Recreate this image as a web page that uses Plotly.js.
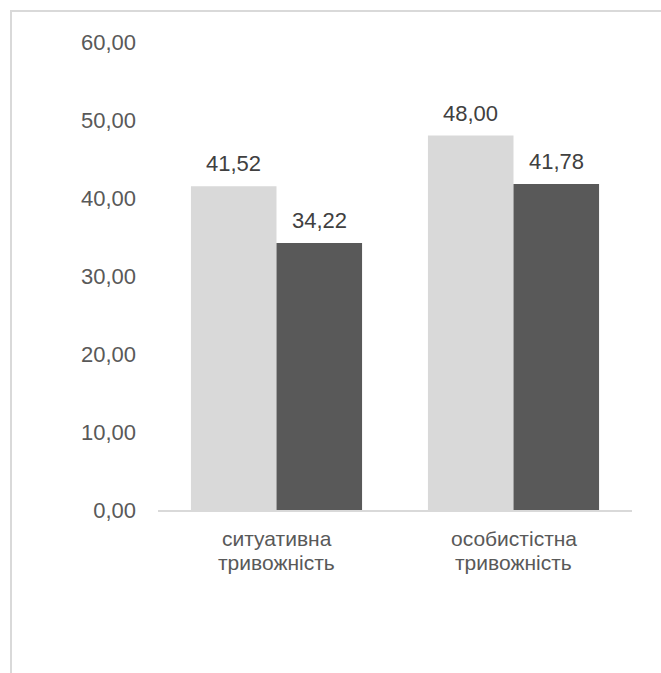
<!DOCTYPE html>
<html>
<head>
<meta charset="utf-8">
<script src="https://cdn.plot.ly/plotly-3.0.1.min.js"></script>
<style>
  html, body { margin: 0; padding: 0; background: #ffffff; overflow: hidden; }
  #wrap { position: relative; width: 661px; height: 673px; }
  #chart { position: absolute; left: 0; top: 0; width: 661px; height: 673px; }
  #frame {
    position: absolute; left: 10px; top: 10px; width: 720px; height: 720px;
    border-top: 2px solid #d9d9d9; border-left: 2px solid #d9d9d9;
    pointer-events: none;
  }
</style>
</head>
<body>
<div id="wrap">
  <div id="chart"></div>
  <div id="frame"></div>
</div>
<script>
// Anxiety scale means for two groups
const categories = ['ситуативна тривожність', 'особистістна тривожність'];
const labelLine1 = ['ситуативна', 'особистістна'];
const labelLine2 = ['тривожність', 'тривожність'];
const groupA = [41.52, 48.00];
const groupB = [34.22, 41.78];
const yTicks = [0, 10, 20, 30, 40, 50, 60];

const FONT = 'Liberation Sans, Arial, sans-serif';
const BAR_PX = 85.5; // width of one bar in pixels, used to centre labels over each bar

const traces = [
  { type: 'bar', x: categories, y: groupA, marker: { color: '#d9d9d9' }, hoverinfo: 'skip' },
  { type: 'bar', x: categories, y: groupB, marker: { color: '#595959' }, hoverinfo: 'skip' }
];

const annotations = [];

// value labels above bars
[groupA, groupB].forEach((vals, gi) => {
  vals.forEach((v, i) => {
    annotations.push({
      x: categories[i], y: v, xref: 'x', yref: 'y',
      xshift: (gi === 0 ? -1 : 1) * BAR_PX / 2,
      yshift: 8,
      yanchor: 'bottom', xanchor: 'center',
      text: v.toFixed(2).replace('.', ','),
      showarrow: false,
      font: { family: FONT, size: 22, color: '#404040' }
    });
  });
});

// two-line category labels under the axis, with tighter line spacing
categories.forEach((c, i) => {
  [[labelLine1[i], -16], [labelLine2[i], -40]].forEach(([txt, dy]) => {
    annotations.push({
      x: c, y: 0, xref: 'x', yref: 'y',
      yanchor: 'top', xanchor: 'center', yshift: dy,
      borderpad: 0,
      text: txt, showarrow: false,
      font: { family: FONT, size: 21, color: '#595959' }
    });
  });
});

const layout = {
  width: 661, height: 673,
  margin: { l: 158, r: 29, t: 42, b: 163 },
  paper_bgcolor: 'rgba(0,0,0,0)', plot_bgcolor: 'rgba(0,0,0,0)',
  separators: ', ',
  showlegend: false,
  barmode: 'group', bargap: 0.278, bargroupgap: 0,
  font: { family: FONT, size: 22, color: '#595959' },
  xaxis: {
    type: 'category',
    showline: true, linecolor: '#d9d9d9', linewidth: 1.5,
    showgrid: false, zeroline: false, ticks: '',
    showticklabels: false
  },
  yaxis: {
    range: [0, 60], tickvals: yTicks, tickformat: '.2f',
    showline: false, showgrid: false, zeroline: false, ticks: '',
    ticklabelstandoff: 21,
    tickfont: { family: FONT, size: 22, color: '#595959' }
  },
  annotations: annotations
};

Plotly.newPlot('chart', traces, layout, { displayModeBar: false, staticPlot: true });
</script>
</body>
</html>
